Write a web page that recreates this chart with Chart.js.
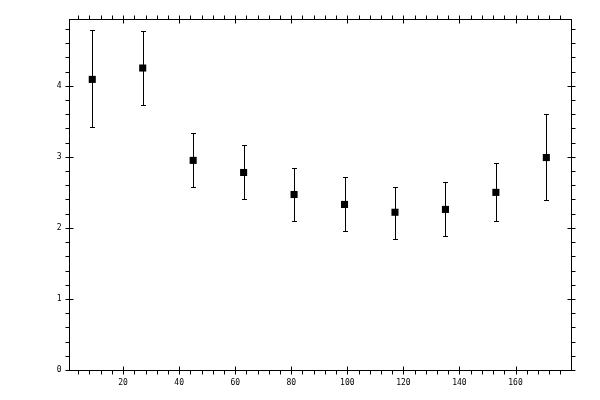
<!DOCTYPE html>
<html>
<head>
<meta charset="utf-8">
<script src="https://cdn.jsdelivr.net/npm/chart.js@4/dist/chart.umd.min.js"></script>
<style>
    html, body { margin: 0; padding: 0; background: #fff; }
    #wrap { width: 600px; height: 400px; }
</style>
</head>
<body>
<div id="wrap"><canvas id="errChart" width="600" height="400"></canvas></div>
<script>
// data
const xValues = [9, 27, 45, 63, 81, 99, 117, 135, 153, 171];
const yValues = [4.09, 4.25, 2.95, 2.78, 2.47, 2.33, 2.22, 2.26, 2.50, 2.99];
const yLower = [3.42, 3.73, 2.57, 2.41, 2.10, 1.96, 1.84, 1.88, 2.10, 2.39];
const yUpper = [4.78, 4.77, 3.33, 3.16, 2.85, 2.71, 2.58, 2.64, 2.91, 3.60];

const xTickLabels = [20, 40, 60, 80, 100, 120, 140, 160];
const yTickLabels = [0, 1, 2, 3, 4];

const points = xValues.map((x, i) => ({ x: x, y: yValues[i] }));

// vertical error bars with small caps
const errorBars = {
    id: "errorBars",
    beforeDatasetsDraw(chart) {
        const ctx = chart.ctx;
        const xs = chart.scales.x;
        const ys = chart.scales.y;
        ctx.save();
        ctx.strokeStyle = "#000";
        ctx.lineWidth = 1;
        xValues.forEach((x, i) => {
            const px = Math.round(xs.getPixelForValue(x)) + 0.5;
            const top = Math.round(ys.getPixelForValue(yUpper[i])) + 0.5;
            const bot = Math.round(ys.getPixelForValue(yLower[i])) + 0.5;
            ctx.beginPath();
            ctx.moveTo(px, top);
            ctx.lineTo(px, bot);
            ctx.moveTo(px - 2.5, top);
            ctx.lineTo(px + 2.5, top);
            ctx.moveTo(px - 2.5, bot);
            ctx.lineTo(px + 2.5, bot);
            ctx.stroke();
        });
        ctx.restore();
    },
};

// box frame, ticks on all four sides, tick labels
const frame = {
    id: "frame",
    afterDraw(chart) {
        const ctx = chart.ctx;
        const a = chart.chartArea;
        const xs = chart.scales.x;
        const ys = chart.scales.y;
        const L = Math.round(a.left) + 0.5;
        const R = Math.round(a.right) + 0.5;
        const T = Math.round(a.top) + 0.5;
        const B = Math.round(a.bottom) + 0.5;

        ctx.save();
        ctx.strokeStyle = "#000";
        ctx.lineWidth = 1;
        ctx.strokeRect(L, T, R - L, B - T);

        ctx.beginPath();
        // x ticks, minor every 4, major every 20
        for (let v = 4; v <= xs.max; v += 4) {
            const px = Math.round(xs.getPixelForValue(v)) + 0.5;
            const major = v % 20 === 0;
            ctx.moveTo(px, B + 4);
            ctx.lineTo(px, major ? B - 4 : B);
            ctx.moveTo(px, T - 4);
            ctx.lineTo(px, major ? T + 4 : T);
        }
        // y ticks, minor every 0.2, major every 1
        for (let k = 0; k * 0.2 <= ys.max; k++) {
            const v = k * 0.2;
            const py = Math.round(ys.getPixelForValue(v)) + 0.5;
            const major = k % 5 === 0;
            ctx.moveTo(L - 4, py);
            ctx.lineTo(major ? L + 4 : L, py);
            ctx.moveTo(R + 4, py);
            ctx.lineTo(major ? R - 4 : R, py);
        }
        ctx.stroke();

        ctx.fillStyle = "#000";
        ctx.font = "8px 'DejaVu Sans Mono'";
        ctx.textAlign = "center";
        ctx.textBaseline = "middle";
        xTickLabels.forEach((v) => {
            ctx.fillText(String(v), xs.getPixelForValue(v), B + 12);
        });
        ctx.textAlign = "right";
        yTickLabels.forEach((v) => {
            ctx.fillText(String(v), L - 8, ys.getPixelForValue(v));
        });
        ctx.restore();
    },
};

new Chart(document.getElementById("errChart"), {
    type: "scatter",
    data: {
        datasets: [
            {
                data: points,
                pointStyle: "rect",
                pointRadius: 5,
                pointHoverRadius: 5,
                pointBorderWidth: 0,
                backgroundColor: "#000",
                borderColor: "#000",
            },
        ],
    },
    options: {
        responsive: false,
        animation: false,
        devicePixelRatio: 1,
        layout: {
            padding: { left: 69, right: 29, top: 19, bottom: 30 },
        },
        scales: {
            x: { type: "linear", min: 0.7, max: 179.8, display: false },
            y: { type: "linear", min: 0, max: 4.94, display: false },
        },
        plugins: {
            legend: { display: false },
            tooltip: { enabled: false },
        },
    },
    plugins: [errorBars, frame],
});
</script>
</body>
</html>
